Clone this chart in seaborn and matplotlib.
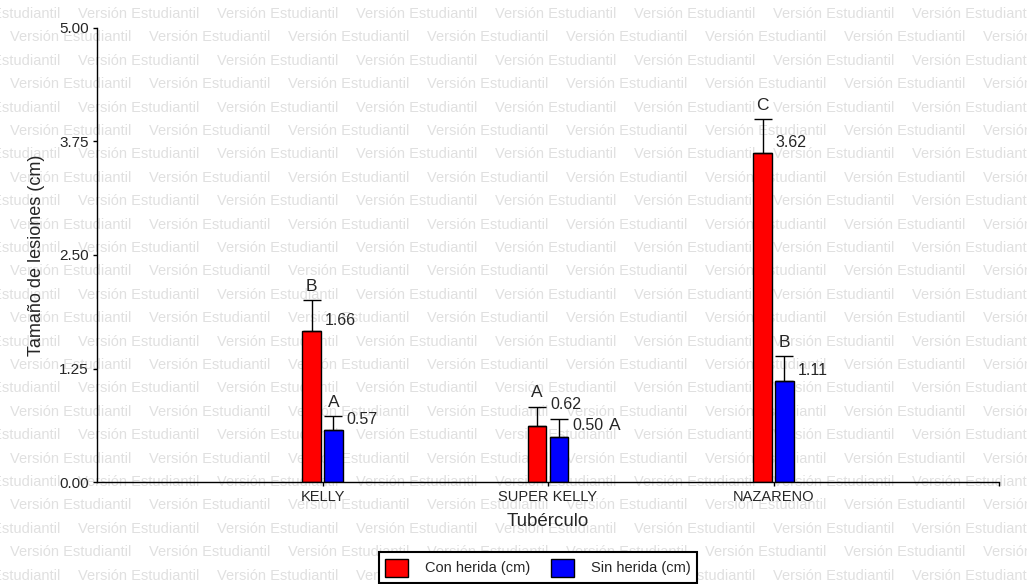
import pandas as pd
import matplotlib
matplotlib.use('Agg')
import matplotlib.pyplot as plt
import seaborn as sns

# values
tuberculos = ['KELLY', 'SUPER KELLY', 'NAZARENO']
series = ['Con herida (cm)', 'Sin herida (cm)']
con_herida = [1.66, 0.62, 3.62]
sin_herida = [0.57, 0.50, 1.11]
err_con = [0.34, 0.21, 0.375]
err_sin = [0.155, 0.19, 0.275]
letras_con = ['B', 'A', 'C']
letras_sin = ['A', 'A', 'B']
yticks = [0.0, 1.25, 2.5, 3.75, 5.0]

df = pd.DataFrame({
    'Tubérculo': tuberculos * 2,
    'Tratamiento': [series[0]] * len(tuberculos) + [series[1]] * len(tuberculos),
    'Tamaño': con_herida + sin_herida,
})

sns.set_style('ticks')
plt.rcParams['font.family'] = ['Liberation Sans', 'DejaVu Sans']

W, H = 1027, 584
fig = plt.figure(figsize=(W / 100, H / 100), dpi=100)
ax = fig.add_axes([97 / W, 1 - 482 / H, (999 - 97) / W, (482 - 28) / H])
ax.set_facecolor('none')

# watermark of the student version, tiled behind everything
for i in range(26):
    y = 14 + 23.4 * i
    shift = 68 if i % 2 == 0 else 0
    for k in range(9):
        fig.text((10 + shift + 139 * (k - 1)) / W, 1 - y / H, 'Versión Estudiantil',
                 fontsize=10.5, color='#e0e0e0', ha='left', va='center', zorder=-5)

sns.barplot(data=df, x='Tubérculo', y='Tamaño', hue='Tratamiento',
            palette=['#ff0000', '#0000ff'], saturation=1, width=0.195, gap=0.14,
            edgecolor='black', linewidth=1, errorbar=None, ax=ax)

for j, (cont, errs, letras) in enumerate(zip(ax.containers, [err_con, err_sin], [letras_con, letras_sin])):
    for i, (bar, e, letra) in enumerate(zip(cont, errs, letras)):
        xc = bar.get_x() + bar.get_width() / 2
        h = bar.get_height()
        ax.errorbar(xc, h, yerr=[[0], [e]], fmt='none', ecolor='black',
                    elinewidth=1, capsize=6.5, capthick=1, zorder=3)
        dy = 21 if (j, i) == (0, 1) else 11
        ax.annotate(f'{h:.2f}', (xc, h), xytext=(13, dy), textcoords='offset pixels',
                    ha='left', va='center', fontsize=11.5)
        if (j, i) == (1, 1):
            # this letter sits right of the value label in the original
            ax.annotate(letra, (xc, h), xytext=(56, 11), textcoords='offset pixels',
                        ha='center', va='center', fontsize=12.5)
        else:
            ax.annotate(letra, (xc, h + e), xytext=(0, 14), textcoords='offset pixels',
                        ha='center', va='center', fontsize=12.5)

ax.set_xlim(-1, 3)
ax.set_ylim(0, 5)
ax.set_yticks(yticks)
ax.set_yticklabels([f'{v:.2f}' for v in yticks], fontsize=11)
ax.set_xticks(range(len(tuberculos)))
ax.set_xticklabels(tuberculos, fontsize=10.5)
ax.set_xticks([3], minor=True)
ax.tick_params(which='both', direction='out', length=3, width=1, color='black', pad=3)
sns.despine(ax=ax)
for s in ['left', 'bottom']:
    ax.spines[s].set_linewidth(1)
    ax.spines[s].set_color('black')

ax.set_xlabel('Tubérculo', fontsize=13.5)
ax.set_ylabel('Tamaño de lesiones (cm)', fontsize=13)
ax.xaxis.set_label_coords(0.5, -0.068)
ax.yaxis.set_label_coords(-0.058, 0.5)

handles, labels = ax.get_legend_handles_labels()
leg = ax.legend(handles, labels, ncol=2, loc='upper center',
                bbox_to_anchor=(538 / W, 1 - 552 / H), bbox_transform=fig.transFigure,
                fancybox=False, framealpha=1, edgecolor='black', fontsize=10.5,
                handlelength=1.55, handleheight=1.55, handletextpad=1.2,
                columnspacing=1.4, borderpad=0.45, borderaxespad=0)
leg.get_frame().set_linewidth(1.5)

fig.savefig('out.png', dpi=100)
